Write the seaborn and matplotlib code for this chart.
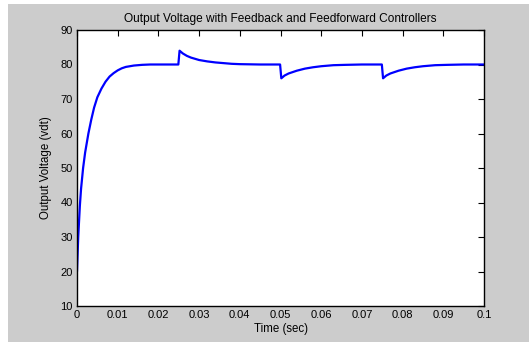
import matplotlib
matplotlib.use("Agg")
import matplotlib.pyplot as plt
import seaborn as sns
import pandas as pd
from matplotlib.patches import Rectangle

time_s = [0, 0.0003, 0.0007, 0.001, 0.0015, 0.002, 0.0028, 0.0035, 0.0042, 0.005,
          0.006, 0.007, 0.008, 0.009, 0.010, 0.011, 0.012, 0.014, 0.016, 0.018,
          0.020, 0.0249, 0.0252, 0.026, 0.027, 0.028, 0.030, 0.032, 0.034, 0.036,
          0.038, 0.040, 0.045, 0.0499, 0.0502, 0.051, 0.052, 0.054, 0.056, 0.058,
          0.060, 0.063, 0.066, 0.070, 0.0749, 0.0752, 0.076, 0.077, 0.079, 0.081,
          0.083, 0.085, 0.088, 0.091, 0.095, 0.100]
voltage = [20, 30, 39, 44, 50, 54.5, 60, 64, 67.5, 70.5,
           73, 75, 76.5, 77.5, 78.3, 78.9, 79.3, 79.7, 79.9, 80,
           80, 80, 84, 83.2, 82.5, 82, 81.3, 80.9, 80.6, 80.4,
           80.2, 80.1, 80, 80, 76, 76.8, 77.4, 78.2, 78.8, 79.2,
           79.5, 79.8, 79.9, 80, 80, 76, 76.8, 77.4, 78.2, 78.8,
           79.2, 79.5, 79.8, 79.9, 80, 80]

x_ticks = [0, 0.01, 0.02, 0.03, 0.04, 0.05, 0.06, 0.07, 0.08, 0.09, 0.1]
x_tick_labels = ["0", "0.01", "0.02", "0.03", "0.04", "0.05", "0.06", "0.07", "0.08", "0.09", "0.1"]
y_ticks = [10, 20, 30, 40, 50, 60, 70, 80, 90]

df = pd.DataFrame({"t": time_s, "v": voltage})

sns.set_style("white")
plt.rcParams['font.family'] = ['Liberation Sans', 'DejaVu Sans']
plt.rcParams['text.color'] = 'black'
plt.rcParams['axes.labelcolor'] = 'black'

W, H = 529, 342
fig = plt.figure(figsize=(W / 100, H / 100), dpi=100, facecolor="white")
fig.patches.append(Rectangle((8 / W, 0), 1 - 8 / W, 1 - 4 / H, transform=fig.transFigure,
                             facecolor="#cccccc", edgecolor="none", zorder=-10))

ax = fig.add_axes([77 / W, 1 - 306 / H, (484 - 77) / W, (306 - 30) / H])
ax.set_facecolor("white")
sns.lineplot(data=df, x="t", y="v", ax=ax, color="#0000ff", linewidth=1.6, estimator=None, sort=False)

ax.set_xlim(0, 0.1)
ax.set_ylim(10, 90)
ax.set_xticks(x_ticks)
ax.set_xticklabels(x_tick_labels)
ax.set_yticks(y_ticks)
ax.tick_params(direction="in", length=4, width=0.8, top=True, right=True,
               labelsize=8, colors="black", pad=3)
for s in ax.spines.values():
    s.set_visible(True)
    s.set_color("black")
    s.set_linewidth(1.0)

ax.set_title("Output Voltage with Feedback and Feedforward Controllers", fontsize=8.6,
             pad=6, color="black")
ax.set_xlabel("Time (sec)", fontsize=8.3, labelpad=2, color="black")
ax.set_ylabel("Output Voltage (vdt)", fontsize=8.3, labelpad=6, color="black")

fig.savefig("out.png", dpi=100, facecolor="white")
